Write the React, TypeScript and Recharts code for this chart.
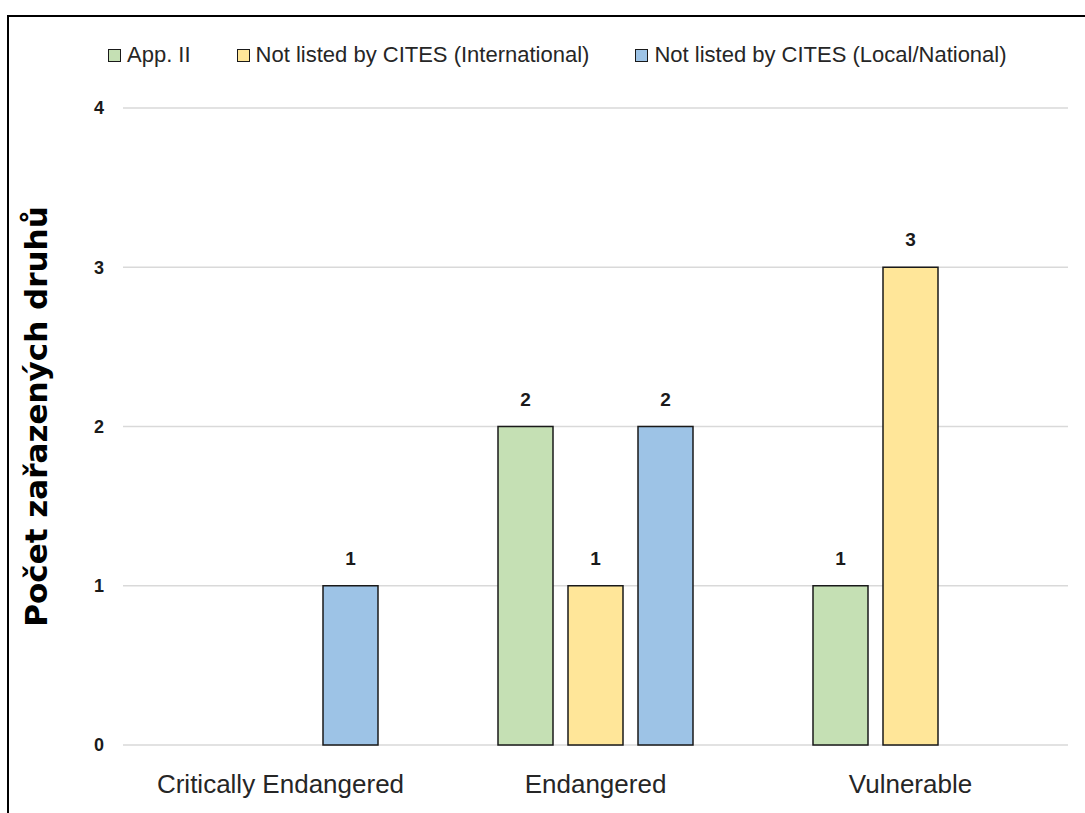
import React from 'react';
import { BarChart, Bar, XAxis, YAxis, CartesianGrid, Legend, LabelList } from 'recharts';

const categories = ['Critically Endangered', 'Endangered', 'Vulnerable'];
const appII: (number | null)[] = [null, 2, 1];
const notListedIntl: (number | null)[] = [null, 1, 3];
const notListedLocal: (number | null)[] = [1, 2, null];
const yTicks = [0, 1, 2, 3, 4];

const seriesNames = ['App. II', 'Not listed by CITES (International)', 'Not listed by CITES (Local/National)'];
const seriesColors = ['#C5E0B4', '#FFE699', '#9DC3E6'];
const yTitle = 'Počet zařazených druhů';

const data = categories.map((c, i) => ({
  category: c,
  appII: appII[i],
  intl: notListedIntl[i],
  local: notListedLocal[i],
}));

const FONT = '"Liberation Sans", Arial, sans-serif';

const LegendContent = () => (
  <div style={{ display: 'flex', alignItems: 'center', height: 30, marginLeft: 108, fontFamily: FONT, fontSize: 22, color: '#262626' }}>
    {seriesNames.map((n, i) => (
      <div key={n} style={{ display: 'flex', alignItems: 'center', marginRight: 46 }}>
        <div style={{ width: 11, height: 11, background: seriesColors[i], border: '1.5px solid #1a1a1a', marginRight: 6 }} />
        <span style={{ whiteSpace: 'nowrap' }}>{n}</span>
      </div>
    ))}
  </div>
);

const YTitle = (props: any) => {
  const vb = props.viewBox || {};
  const x = vb.x + 36;
  const y = vb.y + vb.height / 2 - 10;
  return (
    <text
      x={x}
      y={y}
      transform={`rotate(-90, ${x}, ${y})`}
      textAnchor="middle"
      dominantBaseline="central"
      style={{ fontFamily: '"DejaVu Sans", sans-serif', fontWeight: 'bold', fontSize: 31, fill: '#000' }}
    >
      {yTitle}
    </text>
  );
};

export default function App() {
  return (
    <div style={{ position: 'absolute', left: 0, top: 0, width: 1085, height: 813, background: '#fff', overflow: 'hidden' }}>
      <div style={{ position: 'absolute', left: 7, top: 15, width: 1078, height: 2, background: '#000' }} />
      <div style={{ position: 'absolute', left: 7, top: 15, width: 2, height: 798, background: '#000' }} />
      <div style={{ position: 'absolute', left: 0, top: 0 }}>
        <BarChart
          width={1085}
          height={813}
          data={data}
          margin={{ top: 78, right: 17, left: 0, bottom: 0 }}
          barCategoryGap={60}
          barGap={15}
        >
          <CartesianGrid vertical={false} stroke="#D9D9D9" strokeWidth={1.5} />
          <XAxis
            dataKey="category"
            axisLine={false}
            tickLine={false}
            height={68}
            tickMargin={24}
            tick={{ fontFamily: FONT, fontSize: 26, fill: '#262626' }}
          />
          <YAxis
            width={123}
            domain={[0, 4]}
            ticks={yTicks}
            axisLine={false}
            tickLine={false}
            tickMargin={13}
            tick={{ fontFamily: FONT, fontSize: 18, fontWeight: 'bold', fill: '#1a1a1a' }}
            label={<YTitle />}
          />
          <Legend verticalAlign="top" align="left" wrapperStyle={{ top: 40, left: 0, width: 1085 }} content={<LegendContent />} />
          <Bar dataKey="appII" name={seriesNames[0]} fill={seriesColors[0]} stroke="#1a1a1a" strokeWidth={1.5} isAnimationActive={false}>
            <LabelList dataKey="appII" position="top" offset={21} style={{ fontFamily: FONT, fontSize: 19, fontWeight: 'bold', fill: '#1a1a1a' }} />
          </Bar>
          <Bar dataKey="intl" name={seriesNames[1]} fill={seriesColors[1]} stroke="#1a1a1a" strokeWidth={1.5} isAnimationActive={false}>
            <LabelList dataKey="intl" position="top" offset={21} style={{ fontFamily: FONT, fontSize: 19, fontWeight: 'bold', fill: '#1a1a1a' }} />
          </Bar>
          <Bar dataKey="local" name={seriesNames[2]} fill={seriesColors[2]} stroke="#1a1a1a" strokeWidth={1.5} isAnimationActive={false}>
            <LabelList dataKey="local" position="top" offset={21} style={{ fontFamily: FONT, fontSize: 19, fontWeight: 'bold', fill: '#1a1a1a' }} />
          </Bar>
        </BarChart>
      </div>
    </div>
  );
}
